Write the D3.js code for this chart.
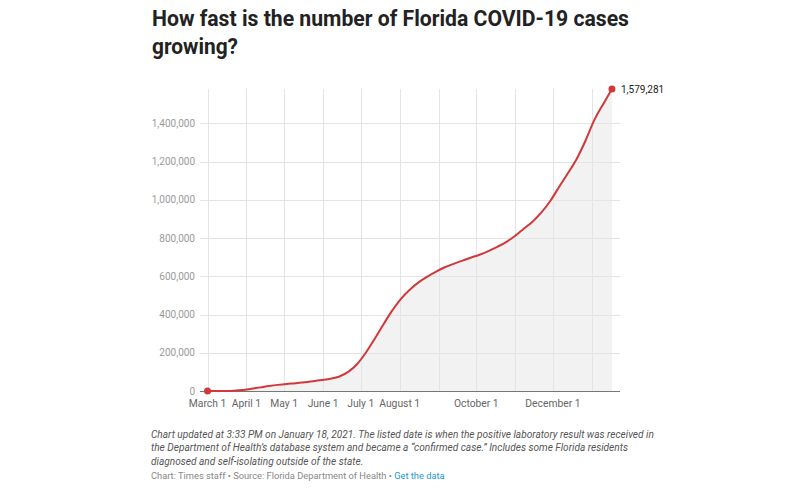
<!DOCTYPE html>
<html>
<head>
<meta charset="utf-8">
<script src="https://cdn.jsdelivr.net/npm/d3@7"></script>
<style>
  html, body { margin: 0; padding: 0; background: #fff; }
  svg { display: block; font-family: Roboto, "Noto Sans", sans-serif; }
</style>
</head>
<body>
<svg id="chart" width="800" height="489"></svg>
<script>
// ---- DATA ----
const titleLines = ["How fast is the number of Florida COVID-19 cases", "growing?"];
const dates = [
  "2020-03-01","2020-03-08","2020-03-15","2020-03-22","2020-03-29",
  "2020-04-05","2020-04-12","2020-04-19","2020-04-26","2020-05-03",
  "2020-05-10","2020-05-17","2020-05-24","2020-05-31","2020-06-07",
  "2020-06-14","2020-06-21","2020-06-28","2020-07-05","2020-07-12",
  "2020-07-19","2020-07-26","2020-08-02","2020-08-09","2020-08-16",
  "2020-08-23","2020-08-30","2020-09-06","2020-09-13","2020-09-20",
  "2020-09-27","2020-10-04","2020-10-11","2020-10-18","2020-10-25",
  "2020-11-01","2020-11-08","2020-11-15","2020-11-22","2020-11-29",
  "2020-12-06","2020-12-13","2020-12-20","2020-12-27","2021-01-03",
  "2021-01-10","2021-01-17"
];
const cases = [
  0, 50, 300, 1500, 5000,
  12000, 19000, 26000, 32000, 37000,
  41000, 46000, 51000, 57000, 64000,
  76000, 100000, 140000, 200000, 272000,
  348000, 420000, 482000, 530000, 568000,
  598000, 624000, 647000, 665000, 682000,
  698000, 714000, 733000, 755000, 780000,
  812000, 850000, 887000, 935000, 995000,
  1068000, 1140000, 1215000, 1310000, 1418000,
  1500000, 1579281
];
const yTicks = [0, 200000, 400000, 600000, 800000, 1000000, 1200000, 1400000];
const gridMonths = ["2020-03-01","2020-04-01","2020-05-01","2020-06-01","2020-07-01","2020-08-01",
  "2020-09-01","2020-10-01","2020-11-01","2020-12-01","2021-01-01"];
const labelMonths = ["2020-03-01","2020-04-01","2020-05-01","2020-06-01","2020-07-01","2020-08-01",
  "2020-10-01","2020-12-01"];
const monthNames = ["January","February","March","April","May","June","July","August","September","October","November","December"];
const noteLines = [
  "Chart updated at 3:33 PM on January 18, 2021. The listed date is when the positive laboratory result was received in",
  "the Department of Health\u2019s database system and became a \u201cconfirmed case.\u201d Includes some Florida residents",
  "diagnosed and self-isolating outside of the state."
];
const sourceText = "Chart: Times staff \u2022 Source: Florida Department of Health \u2022 ";
const linkText = "Get the data";

// ---- CHART ----
const parse = d3.utcParse("%Y-%m-%d");
const data = dates.map((d, i) => ({ date: parse(d), value: cases[i] }));

const svg = d3.select("#chart");
const x = d3.scaleUtc().domain([parse("2020-02-24"), parse("2021-01-23")]).range([200, 619.5]);
const y = d3.scaleLinear().domain([0, 1400000]).range([391, 123.3]);

// title
const title = svg.append("g");
titleLines.forEach((t, i) => {
  const el = title.append("text")
    .attr("x", 152).attr("y", 26 + i * 28)
    .attr("font-size", 22).attr("font-weight", 700).attr("fill", "#222")
    .text(t);
  if (i === 0) el.attr("textLength", 477).attr("lengthAdjust", "spacingAndGlyphs");
  else el.attr("textLength", 86).attr("lengthAdjust", "spacingAndGlyphs");
});

// area
const area = d3.area().x(d => x(d.date)).y0(y(0)).y1(d => y(d.value)).curve(d3.curveMonotoneX);
svg.append("path").datum(data).attr("d", area).attr("fill", "#f2f2f2");

// grid
const gTop = y(cases[cases.length - 1]);
svg.append("g").selectAll("line").data(yTicks.slice(1)).join("line")
  .attr("x1", 200).attr("x2", 620)
  .attr("y1", d => Math.round(y(d)) + 0.5).attr("y2", d => Math.round(y(d)) + 0.5)
  .attr("stroke", "#e4e4e4").attr("stroke-width", 1);
svg.append("g").selectAll("line").data(gridMonths).join("line")
  .attr("x1", d => Math.round(x(parse(d))) + 0.5).attr("x2", d => Math.round(x(parse(d))) + 0.5)
  .attr("y1", gTop).attr("y2", y(0))
  .attr("stroke", "#e4e4e4").attr("stroke-width", 1);

// y labels
svg.append("g").selectAll("text").data(yTicks).join("text")
  .attr("x", 195).attr("y", d => y(d) + 3.5)
  .attr("text-anchor", "end").attr("font-size", 10).attr("fill", "#9a9a9a")
  .text(d => d3.format(",")(d));

// axis line
svg.append("line").attr("x1", 200).attr("x2", 620)
  .attr("y1", Math.round(y(0)) + 0.5).attr("y2", Math.round(y(0)) + 0.5)
  .attr("stroke", "#777").attr("stroke-width", 1);

// x labels
svg.append("g").selectAll("text").data(labelMonths).join("text")
  .attr("x", d => x(parse(d))).attr("y", 406.5)
  .attr("text-anchor", "middle").attr("font-size", 10.3).attr("fill", "#666")
  .text(d => monthNames[parse(d).getUTCMonth()] + " 1");

// line
const line = d3.line().x(d => x(d.date)).y(d => y(d.value)).curve(d3.curveMonotoneX);
svg.append("path").datum(data).attr("d", line)
  .attr("fill", "none").attr("stroke", "#d2383b").attr("stroke-width", 2);

// end points
const first = data[0], last = data[data.length - 1];
svg.append("g").selectAll("circle").data([first, last]).join("circle")
  .attr("cx", d => x(d.date)).attr("cy", d => y(d.value)).attr("r", 3.5)
  .attr("fill", "#d2383b");
svg.append("text").attr("x", x(last.date) + 9).attr("y", y(last.value) + 3.5)
  .attr("font-size", 10).attr("fill", "#222")
  .text(d3.format(",")(last.value));

// notes
const notes = svg.append("g");
noteLines.forEach((t, i) => {
  notes.append("text").attr("x", 151).attr("y", 437.5 + i * 13.5)
    .attr("font-size", 10.1).attr("font-style", "italic").attr("fill", "#555").text(t);
});
const src = svg.append("text").attr("x", 151).attr("y", 478.5).attr("font-size", 9.3);
src.append("tspan").attr("fill", "#888").text(sourceText);
src.append("tspan").attr("fill", "#1a9ad6").text(linkText);
</script>
</body>
</html>
